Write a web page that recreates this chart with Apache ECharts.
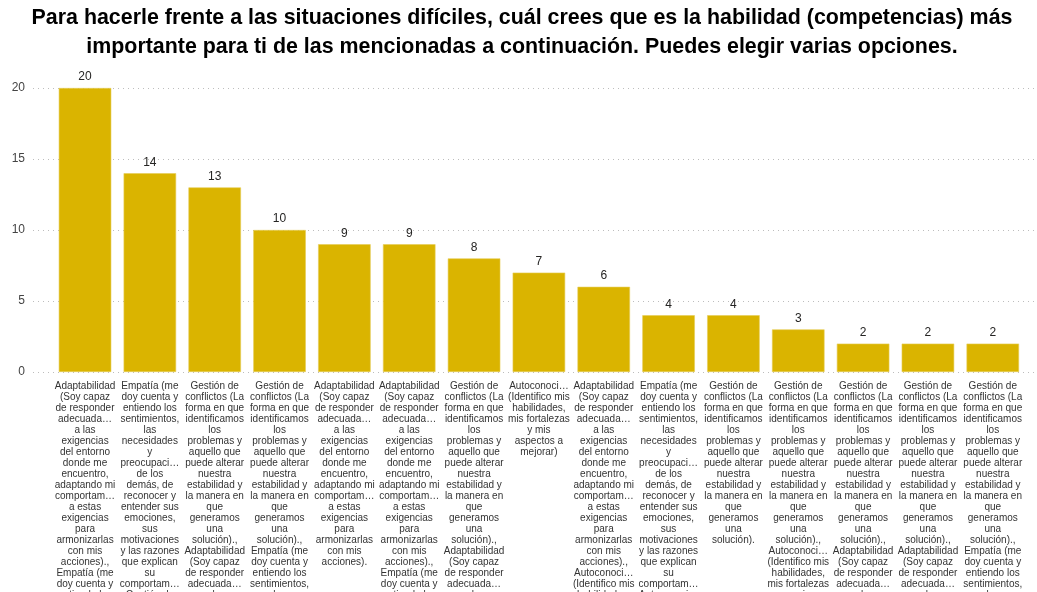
<!DOCTYPE html>
<html>
<head>
<meta charset="utf-8">
<script src="https://cdn.jsdelivr.net/npm/echarts@6/dist/echarts.min.js"></script>
<style>
html,body{margin:0;padding:0;background:#fff;}
#chart{width:1037px;height:592px;}
</style>
</head>
<body>
<div id="chart"></div>
<script>
var titleText = 'Para hacerle frente a las situaciones difíciles, cuál crees que es la habilidad (competencias) más\nimportante para ti de las mencionadas a continuación. Puedes elegir varias opciones.';

var optA = 'Adaptabilidad (Soy capaz de responder adecuadamente a las exigencias del entorno donde me encuentro, adaptando mi comportamiento a estas exigencias para armonizarlas con mis acciones).';
var optE = 'Empatía (me doy cuenta y entiendo los sentimientos, las necesidades y preocupaciones de los demás, de reconocer y entender sus emociones, sus motivaciones y las razones que explican su comportamiento).';
var optG = 'Gestión de conflictos (La forma en que identificamos los problemas y aquello que puede alterar nuestra estabilidad y la manera en que generamos una solución).';
var optAu = 'Autoconocimiento (Identifico mis habilidades, mis fortalezas y mis aspectos a mejorar)';

var categories = [
  [optA, optE].join(', '),
  [optE, optG].join(', '),
  [optG, optA, optE].join(', '),
  [optG, optE].join(', '),
  optA,
  [optA, optE, optAu].join(', '),
  [optG, optA].join(', '),
  optAu,
  [optA, optAu].join(', '),
  [optE, optAu].join(', '),
  optG,
  [optG, optAu].join(', '),
  [optG, optA, optAu].join(', '),
  [optG, optA, optE, optAu].join(', '),
  [optG, optE, optAu].join(', ')
];
var values = [20, 14, 13, 10, 9, 9, 8, 7, 6, 4, 4, 3, 2, 2, 2];
var yTicks = [0, 5, 10, 15, 20];

var LABEL_FONT = '10px "Liberation Sans"';
var MAX_W = 61.9;
var ctx = document.createElement('canvas').getContext('2d');
ctx.font = LABEL_FONT;
function mw(s){ return ctx.measureText(s).width; }
function wrapLabel(text){
  var words = text.split(' ');
  var lines = [], cur = '';
  for (var i = 0; i < words.length; i++) {
    var w = words[i];
    if (mw(w) > MAX_W) {
      var t = w;
      while (t.length > 1 && mw(t + '…') > MAX_W) t = t.slice(0, -1);
      if (cur) lines.push(cur);
      lines.push(t + '…');
      cur = '';
    } else if (cur && mw(cur + ' ' + w) <= MAX_W) {
      cur += ' ' + w;
    } else {
      if (cur) lines.push(cur);
      cur = w;
    }
  }
  if (cur) lines.push(cur);
  return lines.join('\n');
}

var chart = echarts.init(document.getElementById('chart'), null, {renderer: 'canvas'});
chart.setOption({
  animation: false,
  title: {
    text: titleText,
    left: 522,
    textAlign: 'center',
    top: 4,
    padding: 0,
    textStyle: {fontFamily: 'Liberation Sans', fontWeight: 'bold', fontSize: 21.4, lineHeight: 29, color: '#000'}
  },
  grid: [
    {left: 33, right: 3, top: 88, bottom: 220, outerBoundsMode: 'none', containLabel: false},
    {left: 52.6, right: 11.8, top: 88, bottom: 220, outerBoundsMode: 'none', containLabel: false}
  ],
  xAxis: [
    {type: 'value', gridIndex: 0, show: false, min: 0, max: 1},
    {
      type: 'category', gridIndex: 1, data: categories,
      axisLine: {show: false}, axisTick: {show: false},
      axisLabel: {
        interval: 0, margin: 9, fontFamily: 'Liberation Sans', fontSize: 10, lineHeight: 11,
        color: '#333', align: 'center', verticalAlign: 'top', hideOverlap: false,
        formatter: function(v){ return wrapLabel(v); }
      }
    }
  ],
  yAxis: [
    {
      type: 'value', gridIndex: 0, min: yTicks[0], max: yTicks[yTicks.length-1], interval: 5,
      axisLine: {show: false}, axisTick: {show: false},
      axisLabel: {margin: 8, fontFamily: 'Liberation Sans', fontSize: 12, color: '#444'},
      splitLine: {show: true, lineStyle: {type: [1, 4], color: '#bdbdbd', width: 1}}
    },
    {type: 'value', gridIndex: 1, min: yTicks[0], max: yTicks[yTicks.length-1], show: false, splitLine: {show: false}}
  ],
  series: [{
    type: 'bar', xAxisIndex: 1, yAxisIndex: 1, data: values,
    barCategoryGap: '19%',
    itemStyle: {color: '#DAB400', borderColor: '#E6CC55', borderWidth: 0.6},
    label: {show: true, position: 'top', distance: 5, fontFamily: 'Liberation Sans', fontSize: 12, color: '#252423'}
  }]
});
</script>
</body>
</html>
